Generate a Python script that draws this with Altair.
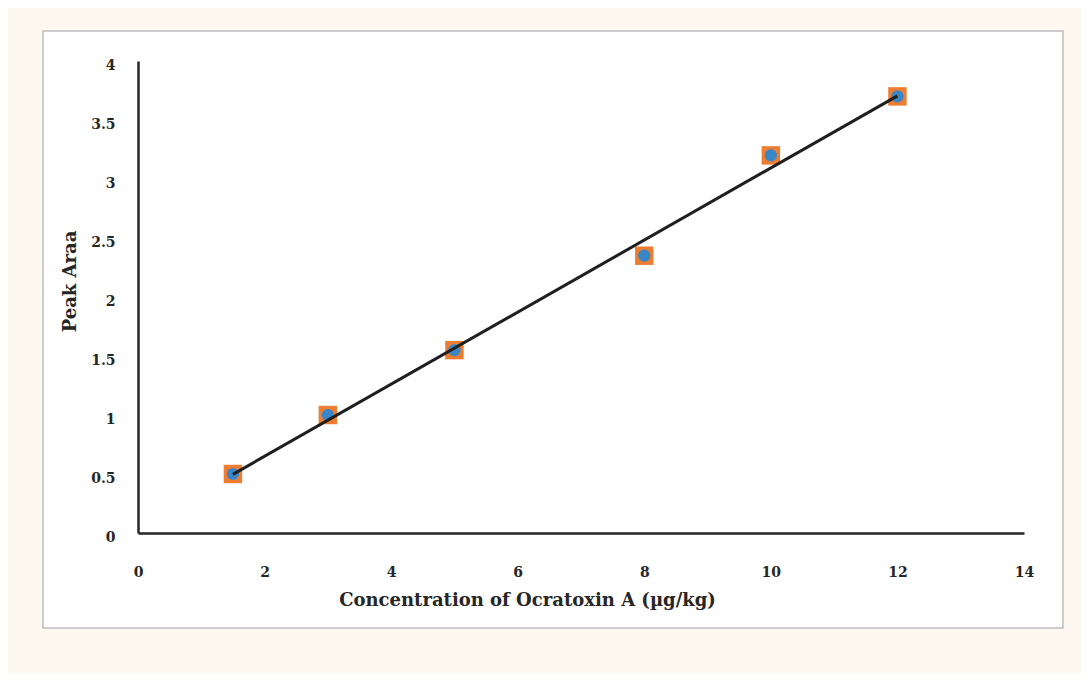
import altair as alt
import pandas as pd

# Data
conc = [1.5, 3, 5, 8, 10, 12]
area = [0.5, 1.0, 1.55, 2.35, 3.2, 3.7]
x_ticks = [0, 2, 4, 6, 8, 10, 12, 14]
y_ticks = [0, 0.5, 1, 1.5, 2, 2.5, 3, 3.5, 4]

df = pd.DataFrame({"conc": conc, "area": area})

FONT = "DejaVu Serif"
INK = "#262626"

x_axis = alt.Axis(
    values=x_ticks, title="Concentration of Ocratoxin A (µg/kg)", grid=False,
    ticks=False, tickSize=0, labelPadding=39, labelBaseline="middle", labelFlush=False,
    titleX=389, titleY=67, titleAlign="center", titleBaseline="middle", zindex=1,
)
y_axis = alt.Axis(
    values=y_ticks, title="Peak Araa", grid=False, ticks=False, tickSize=0, format="~g",
    labelPadding=23, labelAlign="right", labelBaseline="middle", labelOffset=4, labelFlush=False,
    titleX=-68, titleY=220, titleAlign="center", titleBaseline="middle", titleAngle=270,
    zindex=1,
)

x = alt.X("conc:Q", scale=alt.Scale(domain=[0, 14], nice=False, zero=False), axis=x_axis)
y = alt.Y("area:Q", scale=alt.Scale(domain=[0, 4], nice=False, zero=False), axis=y_axis)

box = alt.Chart(pd.DataFrame({"k": [0]})).mark_rect(
    fill="white", stroke="#bdbdbd", strokeWidth=1.5
).encode(x=alt.value(-95), x2=alt.value(925), y=alt.value(-30), y2=alt.value(567))

fit = alt.Chart(df).transform_regression("conc", "area").mark_line(
    color="#1f1f1f", strokeWidth=3
).encode(x=x, y=y)

squares = alt.Chart(df).mark_point(
    shape="square", filled=True, size=340, color="#ED7D31", opacity=1
).encode(x=x, y=y)

circles = alt.Chart(df).mark_point(
    shape="circle", filled=True, size=150, color="#3A87C8", opacity=1
).encode(x=x, y=y)

chart = alt.layer(box, squares, circles, fit).properties(
    width=886, height=472,
    padding={"left": 130, "top": 53, "right": 57, "bottom": 140},
    autosize=alt.AutoSizeParams(type="none"),
).configure(
    background="#FDF9F1"
).configure_view(
    strokeOpacity=0
).configure_axis(
    labelFont=FONT, labelFontSize=14, labelFontWeight="bold", labelColor=INK,
    titleFont=FONT, titleFontSize=18, titleFontWeight="bold", titleColor=INK,
    domainColor=INK, domainWidth=2.5,
)

chart.save("out.html", embed_options={"renderer": "svg", "actions": False})
